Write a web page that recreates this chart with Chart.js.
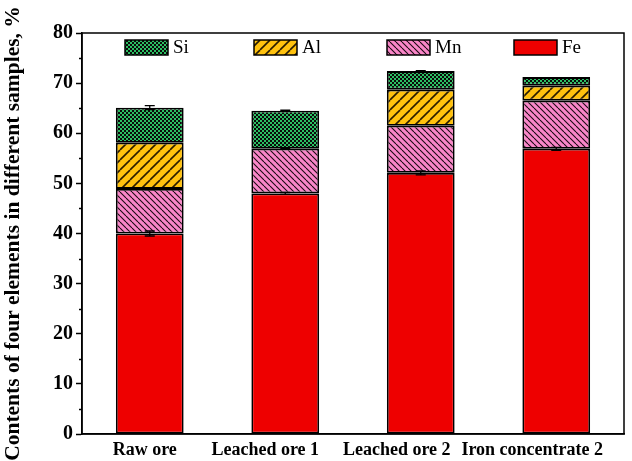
<!DOCTYPE html>
<html>
<head>
<meta charset="utf-8">
<script src="https://cdn.jsdelivr.net/npm/chart.js@4/dist/chart.umd.min.js"></script>
<style>
  html, body { margin: 0; padding: 0; background: #fff; }
  #wrap { width: 632px; height: 461px; }
</style>
</head>
<body>
<div id="wrap"><canvas id="c" width="632" height="461"></canvas></div>
<script>
// Sample names and element contents (%), stacked bottom to top: Fe, Mn, Al, Si
const categories = ['Raw ore', 'Leached ore 1', 'Leached ore 2', 'Iron concentrate 2'];
const feValues = [40.0, 48.0, 52.1, 56.9];
const mnValues = [8.9, 8.9, 9.4, 9.6];
const alValues = [9.2, null, 7.2, 3.0];
const siValues = [7.0, 7.6, 3.7, 1.7];

// Standard deviations drawn at the top of each segment
const feErrors = [0.5, 0.2, 0.4, 0.3];
const mnErrors = [0.15, 0.1, 0, 0];
const alErrors = [0, 0, 0, 0];
const siErrors = [0.4, 0.1, 0.1, 0];

const yTicks = [0, 10, 20, 30, 40, 50, 60, 70, 80];
const legendOrder = ['Si', 'Al', 'Mn', 'Fe'];

const FONT = '"Liberation Serif", "Times New Roman", serif';
// category labels sit slightly left of their bars
const labelShift = [-5, -20, -24, -24];

function makePattern(size, draw) {
  const c = document.createElement('canvas');
  c.width = size; c.height = size;
  const g = c.getContext('2d');
  draw(g, size);
  return document.getElementById('c').getContext('2d').createPattern(c, 'repeat');
}

// Si: dense green/black checks
const siFill = makePattern(4, (g) => {
  g.fillStyle = '#0a0a0a'; g.fillRect(0, 0, 4, 4);
  g.fillStyle = '#2bbf62';
  g.fillRect(0, 0, 2, 2); g.fillRect(2, 2, 2, 2);
});
// Al: orange with forward diagonal hatch
const alFill = makePattern(10, (g, s) => {
  g.fillStyle = '#ffc20e'; g.fillRect(0, 0, s, s);
  g.strokeStyle = '#2a1c00'; g.lineWidth = 1.6;
  for (const o of [-s, 0, s]) {
    g.beginPath(); g.moveTo(o, s); g.lineTo(o + s, 0); g.stroke();
  }
});
// Mn: pink with back diagonal hatch
const mnFill = makePattern(6, (g, s) => {
  g.fillStyle = '#f986c8'; g.fillRect(0, 0, s, s);
  g.strokeStyle = '#1a0a12'; g.lineWidth = 1.1;
  for (const o of [-s, 0, s]) {
    g.beginPath(); g.moveTo(o, 0); g.lineTo(o + s, s); g.stroke();
  }
});
const feFill = '#ee0000';

const fills = { Si: siFill, Al: alFill, Mn: mnFill, Fe: feFill };

function ds(label, data, errors) {
  return {
    label, data, errors,
    backgroundColor: fills[label],
    borderColor: '#000',
    borderWidth: 1.8,
    borderSkipped: false,
    barPercentage: 0.5,
    categoryPercentage: 1.0,
    stack: 's'
  };
}

// Error bars, minor ticks, frame, category labels and in-plot legend
const extras = {
  id: 'extras',
  afterDatasetsDraw(chart) {
    const ctx = chart.ctx;
    const y = chart.scales.y;
    ctx.save();
    ctx.strokeStyle = '#000';
    ctx.lineWidth = 1.3;
    chart.data.datasets.forEach((d, di) => {
      const meta = chart.getDatasetMeta(di);
      meta.data.forEach((bar, i) => {
        const e = d.errors[i];
        if (!e || d.data[i] == null) return;
        let top = 0;
        for (let k = 0; k <= di; k++) top += chart.data.datasets[k].data[i] || 0;
        const yt = y.getPixelForValue(top + e);
        const yb = y.getPixelForValue(top - e);
        const x = bar.x;
        ctx.beginPath();
        ctx.moveTo(x, yt); ctx.lineTo(x, yb);
        ctx.moveTo(x - 5, yt); ctx.lineTo(x + 5, yt);
        ctx.moveTo(x - 5, yb); ctx.lineTo(x + 5, yb);
        ctx.stroke();
      });
    });
    ctx.restore();
  },
  afterDraw(chart) {
    const ctx = chart.ctx;
    const a = chart.chartArea;
    const y = chart.scales.y;
    const x = chart.scales.x;
    ctx.save();
    ctx.strokeStyle = '#000';
    ctx.lineWidth = 1.5;
    // frame
    ctx.strokeRect(a.left, a.top, a.right - a.left, a.bottom - a.top);
    // minor ticks
    for (let v = 5; v < 80; v += 10) {
      const p = Math.round(y.getPixelForValue(v)) + 0.5;
      ctx.beginPath(); ctx.moveTo(a.left - 3, p); ctx.lineTo(a.left, p); ctx.stroke();
    }
    // category labels
    ctx.font = 'bold 18px ' + FONT;
    ctx.fillStyle = '#000';
    ctx.textAlign = 'center';
    ctx.textBaseline = 'alphabetic';
    categories.forEach((c, i) => {
      ctx.fillText(c, x.getPixelForValue(i) + labelShift[i], a.bottom + 21);
    });
    // legend
    const xs = [125, 254, 387, 514];
    ctx.font = '19px ' + FONT;
    ctx.textAlign = 'left';
    ctx.textBaseline = 'middle';
    legendOrder.forEach((name, i) => {
      const bx = xs[i], by = 40;
      ctx.fillStyle = fills[name];
      ctx.fillRect(bx, by, 43, 15);
      ctx.lineWidth = 1.5;
      ctx.strokeStyle = '#000';
      ctx.strokeRect(bx, by, 43, 15);
      ctx.fillStyle = '#000';
      ctx.fillText(name, bx + 48, by + 8);
    });
    ctx.restore();
  }
};

new Chart(document.getElementById('c'), {
  type: 'bar',
  data: {
    labels: categories,
    datasets: [
      ds('Fe', feValues, feErrors),
      ds('Mn', mnValues, mnErrors),
      ds('Al', alValues, alErrors),
      ds('Si', siValues, siErrors)
    ]
  },
  options: {
    responsive: false,
    animation: false,
    devicePixelRatio: 1,
    layout: { padding: { top: 33, right: 8, left: 0, bottom: 0 } },
    plugins: { legend: { display: false }, tooltip: { enabled: false } },
    scales: {
      x: {
        stacked: true,
        grid: { display: false, drawTicks: false },
        border: { display: true, color: '#000', width: 1.5 },
        ticks: { display: false },
        afterFit(s) { s.height = 27; }
      },
      y: {
        stacked: true,
        min: 0, max: 80,
        afterBuildTicks(s) { s.ticks = yTicks.map(v => ({ value: v })); },
        grid: { drawOnChartArea: false, drawTicks: true, tickLength: 6, color: '#000', tickWidth: 1.5 },
        border: { display: true, color: '#000', width: 1.5 },
        ticks: {
          color: '#000', padding: 3,
          font: { family: FONT, size: 20, weight: 'bold' }
        },
        title: {
          display: true,
          text: 'Contents of four elements in different samples, %',
          color: '#000',
          padding: { top: 1, bottom: 0 },
          font: { family: FONT, size: 21.5, weight: 'bold' }
        },
        afterFit(s) { s.width = 82; }
      }
    }
  },
  plugins: [extras]
});
</script>
</body>
</html>
